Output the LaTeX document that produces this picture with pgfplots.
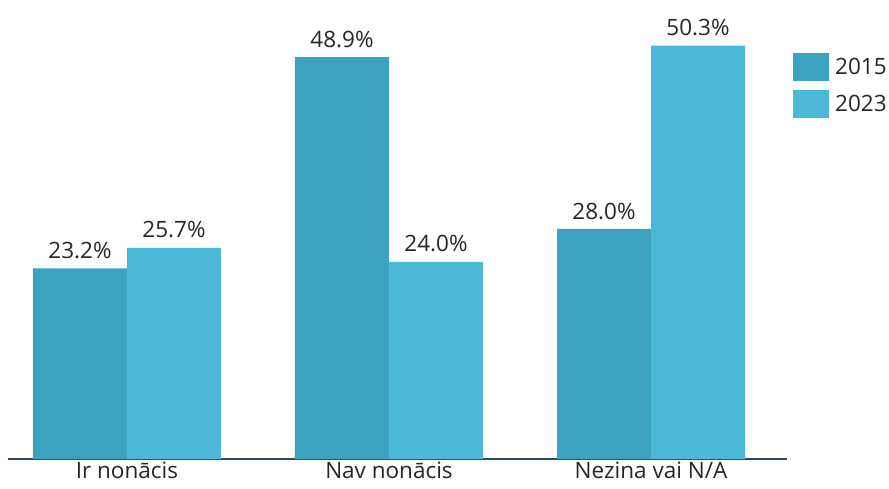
\documentclass[border=0pt]{standalone}
\usepackage{pgfplots}
\pgfplotsset{compat=1.18}
\usepackage{fontspec}
\setmainfont{Open Sans}
\definecolor{c15}{HTML}{3DA1C0}
\definecolor{c23}{HTML}{4AB8D6}
\definecolor{axc}{HTML}{2E4A58}
\definecolor{txt}{HTML}{262626}
\begin{document}
\begin{tikzpicture}
\useasboundingbox (0,0) rectangle (889pt,488pt);
\begin{axis}[
  at={(8pt,29pt)}, anchor=south west,
  scale only axis, width=779pt, height=452pt,
  xmin=-0.454, xmax=2.519, ymin=0, ymax=55,
  axis x line*=bottom, axis y line=none,
  x axis line style={draw=axc, line width=1.5pt, -},
  xtick={0,1,2}, xticklabels={Ir nonācis, Nav nonācis, Nezina vai N/A},
  major tick length=0pt,
  xticklabel style={font=\fontsize{22.5}{26}\selectfont, text=txt, yshift=1pt},
  ytick=\empty,
  ybar, bar width=94pt,
  /pgf/number format/assume math mode=true,
  nodes near coords={\pgfmathprintnumber[fixed,fixed zerofill,precision=1]{\pgfplotspointmeta}\%},
  every node near coord/.append style={font=\fontsize{22.5}{26}\selectfont, text=txt, yshift=6pt},
  legend style={at={(1.0077,0.898)}, anchor=north west, draw=none, fill=none,
    inner sep=0pt, row sep=9pt, font=\fontsize{22.5}{26}\selectfont, text=txt,
    nodes={inner sep=0pt, anchor=west}},
  legend cell align=left,
  legend image code/.code={\fill[#1] (0pt,-14pt) rectangle (36pt,14pt); \path (42pt,0pt);},
]
\addplot[fill=c15, draw=none, bar shift=-47pt] coordinates {(0,23.2) (1,48.9) (2,28.0)};
\addplot[fill=c23, draw=none, bar shift=47pt] coordinates {(0,25.7) (1,24.0) (2,50.3)};
\legend{2015, 2023}
\end{axis}
\end{tikzpicture}
\end{document}
